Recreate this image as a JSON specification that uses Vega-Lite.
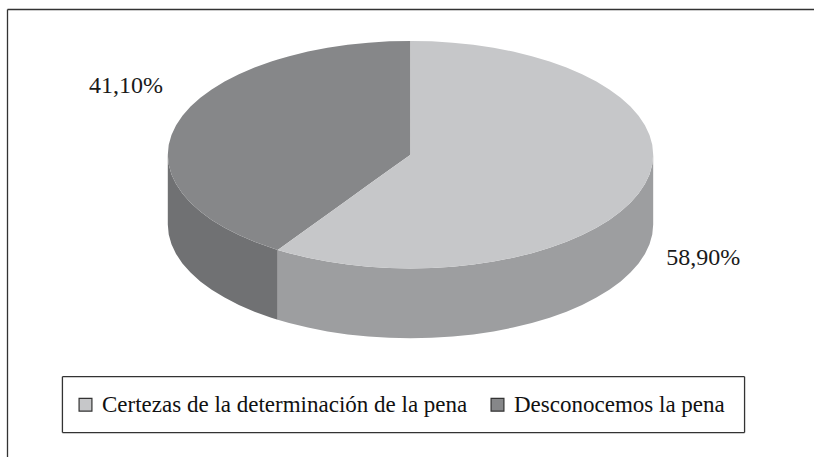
{"$schema":"https://vega.github.io/schema/vega-lite/v6.json","width":815,"height":458,"padding":0,"autosize":{"type":"fit","contains":"padding"},"background":"white","config":{"view":{"stroke":null},"text":{"font":"Liberation Serif"}},
"datasets":{
"lateral":[
{"tono":"oscuro","x":-1,"y":0,"y2":-0.614},{"tono":"oscuro","x":-0.9962,"y":-0.0872,"y2":-0.7012},{"tono":"oscuro","x":-0.9848,"y":-0.1736,"y2":-0.7876},{"tono":"oscuro","x":-0.9659,"y":-0.2588,"y2":-0.8728},{"tono":"oscuro","x":-0.9397,"y":-0.342,"y2":-0.956},{"tono":"oscuro","x":-0.9063,"y":-0.4226,"y2":-1.0366},{"tono":"oscuro","x":-0.866,"y":-0.5,"y2":-1.114},{"tono":"oscuro","x":-0.8192,"y":-0.5736,"y2":-1.1876},{"tono":"oscuro","x":-0.766,"y":-0.6428,"y2":-1.2568},{"tono":"oscuro","x":-0.7071,"y":-0.7071,"y2":-1.3211},{"tono":"oscuro","x":-0.6428,"y":-0.766,"y2":-1.38},{"tono":"oscuro","x":-0.5736,"y":-0.8192,"y2":-1.4332},{"tono":"oscuro","x":-0.547,"y":-0.8371,"y2":-1.4511},
{"tono":"claro","x":-0.547,"y":-0.8371,"y2":-1.4511},{"tono":"claro","x":-0.5,"y":-0.866,"y2":-1.48},{"tono":"claro","x":-0.4226,"y":-0.9063,"y2":-1.5203},{"tono":"claro","x":-0.342,"y":-0.9397,"y2":-1.5537},{"tono":"claro","x":-0.2588,"y":-0.9659,"y2":-1.5799},{"tono":"claro","x":-0.1736,"y":-0.9848,"y2":-1.5988},{"tono":"claro","x":-0.0872,"y":-0.9962,"y2":-1.6102},{"tono":"claro","x":0,"y":-1,"y2":-1.614},{"tono":"claro","x":0.0872,"y":-0.9962,"y2":-1.6102},{"tono":"claro","x":0.1736,"y":-0.9848,"y2":-1.5988},{"tono":"claro","x":0.2588,"y":-0.9659,"y2":-1.5799},{"tono":"claro","x":0.342,"y":-0.9397,"y2":-1.5537},{"tono":"claro","x":0.4226,"y":-0.9063,"y2":-1.5203},{"tono":"claro","x":0.5,"y":-0.866,"y2":-1.48},{"tono":"claro","x":0.5736,"y":-0.8192,"y2":-1.4332},{"tono":"claro","x":0.6428,"y":-0.766,"y2":-1.38},{"tono":"claro","x":0.7071,"y":-0.7071,"y2":-1.3211},{"tono":"claro","x":0.766,"y":-0.6428,"y2":-1.2568},{"tono":"claro","x":0.8192,"y":-0.5736,"y2":-1.1876},{"tono":"claro","x":0.866,"y":-0.5,"y2":-1.114},{"tono":"claro","x":0.9063,"y":-0.4226,"y2":-1.0366},{"tono":"claro","x":0.9397,"y":-0.342,"y2":-0.956},{"tono":"claro","x":0.9659,"y":-0.2588,"y2":-0.8728},{"tono":"claro","x":0.9848,"y":-0.1736,"y2":-0.7876},{"tono":"claro","x":0.9962,"y":-0.0872,"y2":-0.7012},{"tono":"claro","x":1,"y":0,"y2":-0.614}],
"superior":[
{"categoria":"Desconocemos la pena","x":-1,"y":0,"y2":0},{"categoria":"Desconocemos la pena","x":-0.9962,"y":0.0872,"y2":-0.0872},{"categoria":"Desconocemos la pena","x":-0.9848,"y":0.1736,"y2":-0.1736},{"categoria":"Desconocemos la pena","x":-0.9659,"y":0.2588,"y2":-0.2588},{"categoria":"Desconocemos la pena","x":-0.9397,"y":0.342,"y2":-0.342},{"categoria":"Desconocemos la pena","x":-0.9063,"y":0.4226,"y2":-0.4226},{"categoria":"Desconocemos la pena","x":-0.866,"y":0.5,"y2":-0.5},{"categoria":"Desconocemos la pena","x":-0.8192,"y":0.5736,"y2":-0.5736},{"categoria":"Desconocemos la pena","x":-0.766,"y":0.6428,"y2":-0.6428},{"categoria":"Desconocemos la pena","x":-0.7071,"y":0.7071,"y2":-0.7071},{"categoria":"Desconocemos la pena","x":-0.6428,"y":0.766,"y2":-0.766},{"categoria":"Desconocemos la pena","x":-0.5736,"y":0.8192,"y2":-0.8192},{"categoria":"Desconocemos la pena","x":-0.547,"y":0.8371,"y2":-0.8371},{"categoria":"Desconocemos la pena","x":-0.5,"y":0.866,"y2":-0.765},{"categoria":"Desconocemos la pena","x":-0.4226,"y":0.9063,"y2":-0.6466},{"categoria":"Desconocemos la pena","x":-0.342,"y":0.9397,"y2":-0.5233},{"categoria":"Desconocemos la pena","x":-0.2588,"y":0.9659,"y2":-0.396},{"categoria":"Desconocemos la pena","x":-0.1736,"y":0.9848,"y2":-0.2656},{"categoria":"Desconocemos la pena","x":-0.0872,"y":0.9962,"y2":-0.1334},{"categoria":"Desconocemos la pena","x":0,"y":1,"y2":0},
{"categoria":"Certezas de la determinación de la pena","x":-0.547,"y":-0.8371,"y2":-0.8371},{"categoria":"Certezas de la determinación de la pena","x":-0.5,"y":-0.765,"y2":-0.866},{"categoria":"Certezas de la determinación de la pena","x":-0.4226,"y":-0.6466,"y2":-0.9063},{"categoria":"Certezas de la determinación de la pena","x":-0.342,"y":-0.5233,"y2":-0.9397},{"categoria":"Certezas de la determinación de la pena","x":-0.2588,"y":-0.396,"y2":-0.9659},{"categoria":"Certezas de la determinación de la pena","x":-0.1736,"y":-0.2656,"y2":-0.9848},{"categoria":"Certezas de la determinación de la pena","x":-0.0872,"y":-0.1334,"y2":-0.9962},{"categoria":"Certezas de la determinación de la pena","x":0,"y":0,"y2":-1},{"categoria":"Certezas de la determinación de la pena","x":0.0005,"y":1,"y2":-1},{"categoria":"Certezas de la determinación de la pena","x":0.0872,"y":0.9962,"y2":-0.9962},{"categoria":"Certezas de la determinación de la pena","x":0.1736,"y":0.9848,"y2":-0.9848},{"categoria":"Certezas de la determinación de la pena","x":0.2588,"y":0.9659,"y2":-0.9659},{"categoria":"Certezas de la determinación de la pena","x":0.342,"y":0.9397,"y2":-0.9397},{"categoria":"Certezas de la determinación de la pena","x":0.4226,"y":0.9063,"y2":-0.9063},{"categoria":"Certezas de la determinación de la pena","x":0.5,"y":0.866,"y2":-0.866},{"categoria":"Certezas de la determinación de la pena","x":0.5736,"y":0.8192,"y2":-0.8192},{"categoria":"Certezas de la determinación de la pena","x":0.6428,"y":0.766,"y2":-0.766},{"categoria":"Certezas de la determinación de la pena","x":0.7071,"y":0.7071,"y2":-0.7071},{"categoria":"Certezas de la determinación de la pena","x":0.766,"y":0.6428,"y2":-0.6428},{"categoria":"Certezas de la determinación de la pena","x":0.8192,"y":0.5736,"y2":-0.5736},{"categoria":"Certezas de la determinación de la pena","x":0.866,"y":0.5,"y2":-0.5},{"categoria":"Certezas de la determinación de la pena","x":0.9063,"y":0.4226,"y2":-0.4226},{"categoria":"Certezas de la determinación de la pena","x":0.9397,"y":0.342,"y2":-0.342},{"categoria":"Certezas de la determinación de la pena","x":0.9659,"y":0.2588,"y2":-0.2588},{"categoria":"Certezas de la determinación de la pena","x":0.9848,"y":0.1736,"y2":-0.1736},{"categoria":"Certezas de la determinación de la pena","x":0.9962,"y":0.0872,"y2":-0.0872},{"categoria":"Certezas de la determinación de la pena","x":1,"y":0,"y2":0}],
"etiquetas":[{"categoria":"Certezas de la determinación de la pena","valor":58.9,"texto":"58,90%","x":1.0535,"y":-0.974},{"categoria":"Desconocemos la pena","valor":41.1,"texto":"41,10%","x":-1.325,"y":0.544}],
"marco":[{"x":-1.6605,"x2":1.6626,"y":1.2763,"y2":1.2763},{"x":-1.6605,"x2":-1.6605,"y":1.2763,"y2":-2.6579},
{"x":-1.4342,"x2":1.3765,"y":-1.9518,"y2":-1.9518},{"x":-1.4342,"x2":1.3765,"y":-2.443,"y2":-2.443},{"x":-1.4342,"x2":-1.4342,"y":-1.9518,"y2":-2.443},{"x":1.3765,"x2":1.3765,"y":-1.9518,"y2":-2.443}]},
"layer":[
{"data":{"name":"marco"},"mark":{"type":"rule","color":"#333333","strokeWidth":1.3},"encoding":{"x":{"field":"x","type":"quantitative","scale":{"domain":[-1.6914,1.6626],"nice":false,"zero":false},"axis":null},"x2":{"field":"x2"},"y":{"field":"y","type":"quantitative","scale":{"domain":[-2.6579,1.3596],"nice":false,"zero":false},"axis":null},"y2":{"field":"y2"}}},
{"data":{"name":"lateral"},"mark":{"type":"area"},"encoding":{"x":{"field":"x","type":"quantitative","axis":null},"y":{"field":"y","type":"quantitative","axis":null},"y2":{"field":"y2"},"color":{"field":"tono","type":"nominal","scale":{"domain":["claro","oscuro"],"range":["#9d9ea0","#707173"]},"legend":null}}},
{"data":{"name":"superior"},"mark":{"type":"area"},"encoding":{"x":{"field":"x","type":"quantitative","axis":null},"y":{"field":"y","type":"quantitative","axis":null},"y2":{"field":"y2"},"color":{"field":"categoria","type":"nominal","scale":{"domain":["Certezas de la determinación de la pena","Desconocemos la pena"],"range":["#c6c7c9","#868789"]},"legend":{"orient":"none","legendX":60,"legendY":379,"title":null,"direction":"horizontal","columns":2,"padding":14,"columnPadding":18,"symbolType":"square","symbolSize":165,"symbolStrokeColor":"#333333","symbolStrokeWidth":1.2,"labelFont":"Liberation Serif","labelFontSize":23,"labelColor":"#111111","labelOffset":5,"labelLimit":500,"symbolOpacity":1}}}},
{"data":{"name":"etiquetas"},"mark":{"type":"text","align":"left","baseline":"alphabetic","fontSize":24,"font":"Liberation Serif","color":"#1a1a1a"},"encoding":{"x":{"field":"x","type":"quantitative","axis":null},"y":{"field":"y","type":"quantitative","axis":null},"text":{"field":"texto"}}}
],
"resolve":{"scale":{"color":"independent"}}}
